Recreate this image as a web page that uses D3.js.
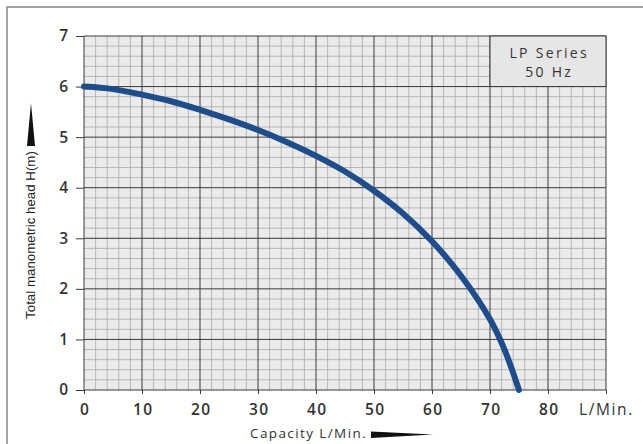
<!DOCTYPE html>
<html><head><meta charset="utf-8">
<script src="https://cdn.jsdelivr.net/npm/d3@7"></script>
<style>
html,body{margin:0;padding:0;background:#fff;}
svg{display:block;}
</style></head>
<body><svg id="c" width="643" height="444"></svg>
<script>
// Data
const flow = [0, 5, 10, 15, 20, 25, 30, 35, 40, 45, 50, 55, 60, 65, 70, 72.5, 75];
const head = [6.0, 5.95, 5.84, 5.71, 5.54, 5.35, 5.14, 4.90, 4.63, 4.32, 3.94, 3.49, 2.94, 2.26, 1.40, 0.80, 0.0];
const xTicks = [0, 10, 20, 30, 40, 50, 60, 70, 80];
const yTicks = [0, 1, 2, 3, 4, 5, 6, 7];
const legendLines = ["LP Series", "50 Hz"];

const svg = d3.select("#c");
const x = d3.scaleLinear().domain([0, 90]).range([84, 606]);
const y = d3.scaleLinear().domain([0, 7]).range([390, 36]);
const fontFam = "Open Sans, sans-serif";

// frame
svg.append("rect").attr("x", 7).attr("y", 7).attr("width", 640).attr("height", 450)
  .attr("fill", "none").attr("stroke", "#9a9a9a").attr("stroke-width", 1.8);

// grid background
svg.append("rect").attr("x", x(0)).attr("y", y(7)).attr("width", x(90) - x(0)).attr("height", y(0) - y(7))
  .attr("fill", "#ebebeb");

const g = svg.append("g");
const minorX = d3.range(0, 91, 2).filter(v => v % 10 !== 0);
const minorY = d3.range(0, 36).map(i => i / 5).filter(v => Math.abs(v - Math.round(v)) > 1e-6);
g.selectAll(".mx").data(minorX).join("line")
  .attr("x1", d => x(d)).attr("x2", d => x(d)).attr("y1", y(0)).attr("y2", y(7))
  .attr("stroke", "#a9a9a9").attr("stroke-width", 0.8);
g.selectAll(".my").data(minorY).join("line")
  .attr("x1", x(0)).attr("x2", x(90)).attr("y1", d => y(d)).attr("y2", d => y(d))
  .attr("stroke", "#a9a9a9").attr("stroke-width", 0.8);
g.selectAll(".Mx").data(d3.range(0, 91, 10)).join("line")
  .attr("x1", d => x(d)).attr("x2", d => x(d)).attr("y1", y(0)).attr("y2", y(7))
  .attr("stroke", "#3a3a3a").attr("stroke-width", 1);
g.selectAll(".My").data(yTicks).join("line")
  .attr("x1", x(0)).attr("x2", x(90)).attr("y1", d => y(d)).attr("y2", d => y(d))
  .attr("stroke", "#3a3a3a").attr("stroke-width", 1);

// legend box
svg.append("rect").attr("x", x(70)).attr("y", y(7)).attr("width", x(90) - x(70)).attr("height", y(6) - y(7))
  .attr("fill", "#e6e6e6").attr("stroke", "#3a3a3a").attr("stroke-width", 1);
svg.append("g").selectAll("text").data(legendLines).join("text")
  .attr("x", (x(70) + x(90)) / 2 + 1.2).attr("y", (d, i) => 57.5 + i * 19.3)
  .attr("text-anchor", "middle").attr("font-family", fontFam)
  .attr("font-size", 14).attr("letter-spacing", 2.3).attr("fill", "#333").text(d => d);

// axes
const ay = svg.append("g").attr("transform", `translate(${x(0)},0)`)
  .call(d3.axisLeft(y).tickValues(yTicks).tickSize(8).tickPadding(8).tickFormat(d3.format("d")));
const ax = svg.append("g").attr("transform", `translate(0,${y(0)})`)
  .call(d3.axisBottom(x).tickValues(xTicks.concat([90])).tickSize(4).tickPadding(10)
    .tickFormat(d => d === 90 ? "" : d));
[ay, ax].forEach(a => {
  a.select(".domain").remove();
  a.selectAll(".tick line").attr("stroke", "#3a3a3a");
  a.selectAll(".tick text").attr("font-family", fontFam).attr("font-size", 15.5)
    .attr("font-weight", 600).attr("fill", "#333");
});
ax.selectAll(".tick text").attr("letter-spacing", 1.5).attr("dx", 0.75);

svg.append("text").attr("x", 579).attr("y", 415).attr("font-family", fontFam)
  .attr("font-size", 15.5).attr("letter-spacing", 1.6).attr("fill", "#333").text("L/Min.");

// x label + wedge
svg.append("text").attr("x", 250).attr("y", 438).attr("font-family", fontFam)
  .attr("font-size", 13.5).attr("letter-spacing", 1.4).attr("fill", "#333").text("Capacity L/Min.");
svg.append("path").attr("d", "M371,431.5 L371,438 L433,434.5 Z").attr("fill", "#111");

// y label + wedge
svg.append("text").attr("transform", "translate(35,235) rotate(-90)")
  .attr("text-anchor", "middle").attr("font-family", "Liberation Sans, Arial, sans-serif")
  .attr("font-size", 13.3).attr("fill", "#222").text("Total manometric head H(m)");
svg.append("path").attr("d", "M31,103 L27,146 L35,146 Z").attr("fill", "#111");

// curve
const pts = flow.map((f, i) => [f, head[i]]);
const line = d3.line().x(d => x(d[0])).y(d => y(d[1])).curve(d3.curveCatmullRom.alpha(0.5));
svg.append("path").datum(pts).attr("d", line)
  .attr("fill", "none").attr("stroke", "#1f4d8c").attr("stroke-width", 6)
  .attr("stroke-linecap", "round");
</script></body></html>
